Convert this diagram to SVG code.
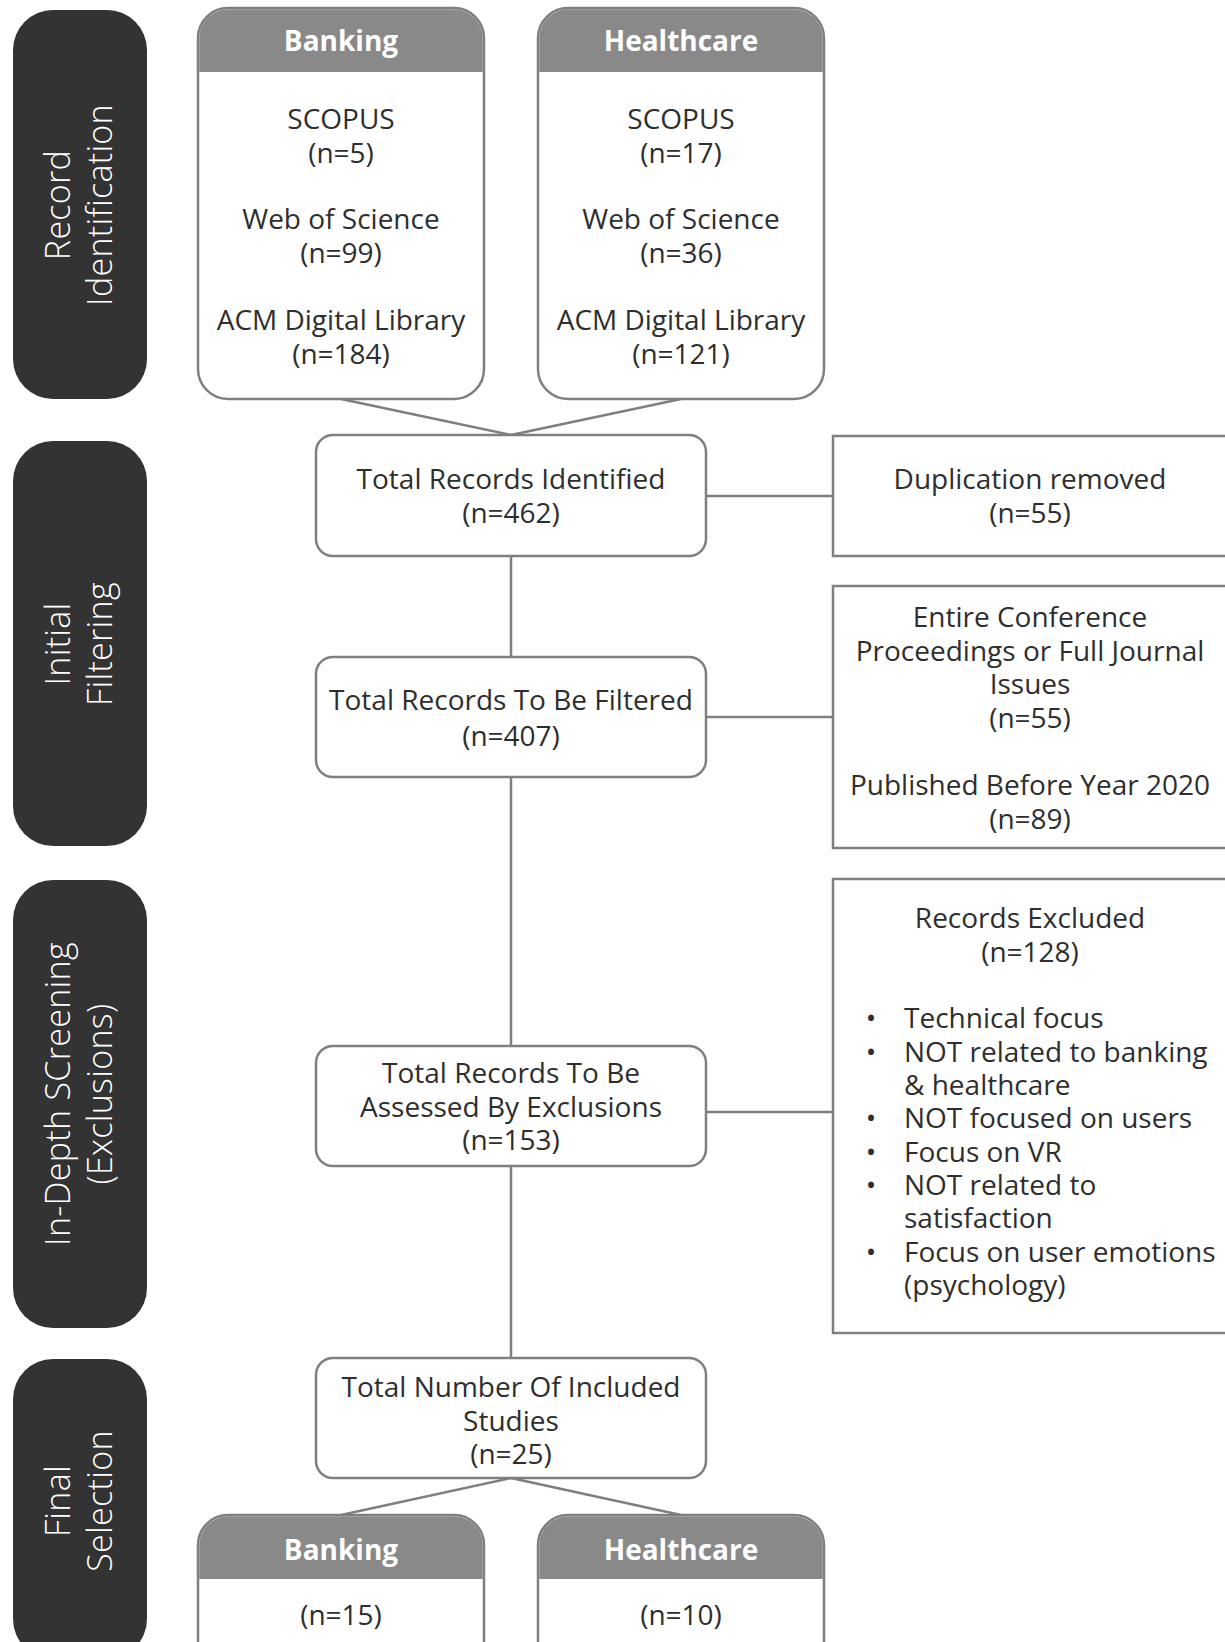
<svg xmlns="http://www.w3.org/2000/svg" width="1225" height="1642" viewBox="0 0 1225 1642">
<style>
.stage{fill:#333333}
.stxt{font-family:"Open Sans","Liberation Sans",sans-serif;font-size:34px;letter-spacing:0.3px;font-weight:300;fill:#ffffff;text-anchor:middle}
.box{fill:#ffffff;stroke:#7f7f7f;stroke-width:2.5}
.hdr{fill:#898989}
.htxt{font-family:"Open Sans","Liberation Sans",sans-serif;font-size:28px;font-weight:bold;fill:#ffffff;text-anchor:middle}
.t{font-family:"Open Sans","Liberation Sans",sans-serif;font-size:28px;fill:#2e2e2e;text-anchor:middle}
.tl{font-family:"Open Sans","Liberation Sans",sans-serif;font-size:28px;fill:#2e2e2e;text-anchor:start}
.conn{stroke:#7f7f7f;stroke-width:2.5;fill:none}
</style>

<g id="stage-record-identification">
<rect class="stage" x="13" y="10" width="134" height="389" rx="40"/>
<g transform="translate(0,205) rotate(-90)">
<text class="stxt" x="0" y="70">Record</text>
<text class="stxt" x="0" y="112">Identification</text>
</g>
</g>
<g id="stage-initial-filtering">
<rect class="stage" x="13" y="441" width="134" height="405" rx="40"/>
<g transform="translate(0,644) rotate(-90)">
<text class="stxt" x="0" y="70">Initial</text>
<text class="stxt" x="0" y="112">Filtering</text>
</g>
</g>
<g id="stage-in-depth">
<rect class="stage" x="13" y="880" width="134" height="448" rx="40"/>
<g transform="translate(0,1094) rotate(-90)">
<text class="stxt" x="0" y="70">In-Depth SCreening</text>
<text class="stxt" x="0" y="112">(Exclusions)</text>
</g>
</g>
<g id="stage-final-selection">
<rect class="stage" x="13" y="1359" width="134" height="300" rx="40"/>
<g transform="translate(0,1501) rotate(-90)">
<text class="stxt" x="0" y="70">Final</text>
<text class="stxt" x="0" y="112">Selection</text>
</g>
</g>

<g id="connectors">
<line class="conn" x1="341" y1="399" x2="511" y2="435"/>
<line class="conn" x1="681" y1="399" x2="511" y2="435"/>
<line class="conn" x1="511" y1="556" x2="511" y2="657"/>
<line class="conn" x1="511" y1="777" x2="511" y2="1046"/>
<line class="conn" x1="511" y1="1166" x2="511" y2="1358"/>
<line class="conn" x1="706" y1="496" x2="833" y2="496"/>
<line class="conn" x1="706" y1="717" x2="833" y2="717"/>
<line class="conn" x1="706" y1="1112" x2="833" y2="1112"/>
<line class="conn" x1="511" y1="1478" x2="341" y2="1515"/>
<line class="conn" x1="511" y1="1478" x2="681" y2="1515"/>
</g>

<g id="banking-sources">
<rect class="box" x="198" y="8" width="286" height="391" rx="30"/>
<path class="hdr" d="M199.25,72 V38 A28.75,28.75 0 0 1 228,9.25 H454 A28.75,28.75 0 0 1 482.75,38 V72 Z"/>
<text class="htxt" x="341" y="51">Banking</text>
<text class="t" x="341" y="129">SCOPUS</text>
<text class="t" x="341" y="163">(n=5)</text>
<text class="t" x="341" y="229">Web of Science</text>
<text class="t" x="341" y="263">(n=99)</text>
<text class="t" x="341" y="330">ACM Digital Library</text>
<text class="t" x="341" y="364">(n=184)</text>
</g>

<g id="healthcare-sources">
<rect class="box" x="538" y="8" width="286" height="391" rx="30"/>
<path class="hdr" d="M539.25,72 V38 A28.75,28.75 0 0 1 568,9.25 H794 A28.75,28.75 0 0 1 822.75,38 V72 Z"/>
<text class="htxt" x="681" y="51">Healthcare</text>
<text class="t" x="681" y="129">SCOPUS</text>
<text class="t" x="681" y="163">(n=17)</text>
<text class="t" x="681" y="229">Web of Science</text>
<text class="t" x="681" y="263">(n=36)</text>
<text class="t" x="681" y="330">ACM Digital Library</text>
<text class="t" x="681" y="364">(n=121)</text>
</g>

<g id="total-identified">
<rect class="box" x="316" y="435" width="390" height="121" rx="17"/>
<text class="t" x="511" y="489">Total Records Identified</text>
<text class="t" x="511" y="523">(n=462)</text>
</g>

<g id="duplication-removed">
<rect class="box" x="833" y="436" width="410" height="120"/>
<text class="t" x="1030" y="489">Duplication removed</text>
<text class="t" x="1030" y="523">(n=55)</text>
</g>

<g id="total-filtered">
<rect class="box" x="316" y="657" width="390" height="120" rx="17"/>
<text class="t" x="511" y="710">Total Records To Be Filtered</text>
<text class="t" x="511" y="746">(n=407)</text>
</g>

<g id="filter-exclusions">
<rect class="box" x="833" y="586" width="410" height="262"/>
<text class="t" x="1030" y="627">Entire Conference</text>
<text class="t" x="1030" y="661">Proceedings or Full Journal</text>
<text class="t" x="1030" y="694">Issues</text>
<text class="t" x="1030" y="728">(n=55)</text>
<text class="t" x="1030" y="795">Published Before Year 2020</text>
<text class="t" x="1030" y="829">(n=89)</text>
</g>

<g id="total-assessed">
<rect class="box" x="316" y="1046" width="390" height="120" rx="17"/>
<text class="t" x="511" y="1083">Total Records To Be</text>
<text class="t" x="511" y="1117">Assessed By Exclusions</text>
<text class="t" x="511" y="1150">(n=153)</text>
</g>

<g id="records-excluded">
<rect class="box" x="833" y="879" width="410" height="454"/>
<text class="t" x="1030" y="928">Records Excluded</text>
<text class="t" x="1030" y="962">(n=128)</text>
<text class="t" x="871" y="1028">•</text>
<text class="tl" x="904" y="1028">Technical focus</text>
<text class="t" x="871" y="1062">•</text>
<text class="tl" x="904" y="1062">NOT related to banking</text>
<text class="tl" x="904" y="1095">&amp; healthcare</text>
<text class="t" x="871" y="1128">•</text>
<text class="tl" x="904" y="1128">NOT focused on users</text>
<text class="t" x="871" y="1162">•</text>
<text class="tl" x="904" y="1162">Focus on VR</text>
<text class="t" x="871" y="1195">•</text>
<text class="tl" x="904" y="1195">NOT related to</text>
<text class="tl" x="904" y="1228">satisfaction</text>
<text class="t" x="871" y="1262">•</text>
<text class="tl" x="904" y="1262">Focus on user emotions</text>
<text class="tl" x="904" y="1295">(psychology)</text>
</g>

<g id="total-included">
<rect class="box" x="316" y="1358" width="390" height="120" rx="17"/>
<text class="t" x="511" y="1397">Total Number Of Included</text>
<text class="t" x="511" y="1431">Studies</text>
<text class="t" x="511" y="1464">(n=25)</text>
</g>

<g id="banking-included">
<rect class="box" x="198" y="1515" width="286" height="160" rx="30"/>
<path class="hdr" d="M199.25,1579 V1545 A28.75,28.75 0 0 1 228,1516.25 H454 A28.75,28.75 0 0 1 482.75,1545 V1579 Z"/>
<text class="htxt" x="341" y="1560">Banking</text>
<text class="t" x="341" y="1625">(n=15)</text>
</g>

<g id="healthcare-included">
<rect class="box" x="538" y="1515" width="286" height="160" rx="30"/>
<path class="hdr" d="M539.25,1579 V1545 A28.75,28.75 0 0 1 568,1516.25 H794 A28.75,28.75 0 0 1 822.75,1545 V1579 Z"/>
<text class="htxt" x="681" y="1560">Healthcare</text>
<text class="t" x="681" y="1625">(n=10)</text>
</g>
</svg>
